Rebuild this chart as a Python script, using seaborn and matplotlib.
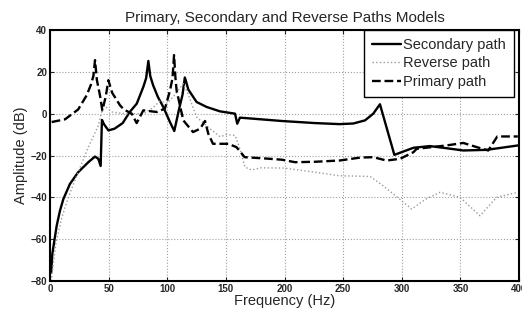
import numpy as np
import pandas as pd
import matplotlib
matplotlib.use("Agg")
import matplotlib.pyplot as plt
import seaborn as sns

# secondary path (solid)
sec_freq = [1, 2, 3.7, 5.7, 8.5, 11.4, 17, 24, 32.7, 38.4, 41.2, 43.2, 44.3, 46, 49.8,
            55, 62, 68, 74, 79.6, 82, 83.9, 85.5, 88, 92, 96.6, 102.3, 106, 110, 113, 115,
            116.5, 118, 125, 133.6, 145, 157.8, 159.7, 162, 197.6, 226, 247, 258.7, 268.7,
            275.7, 281.4, 293.7, 310, 324, 338, 352.5, 372.4, 399]
sec_amp = [-76, -67, -60.8, -53.6, -46.4, -40.8, -33.6, -28, -23.2, -20.5, -21.6, -25, -3, -5, -8,
           -7.2, -4.5, 0.8, 4.8, 12.8, 17, 25.2, 18, 13.5, 8, 3.2, -4, -8.3, 2, 9, 17.3,
           14.5, 11.5, 5.6, 3.2, 1.1, 0, -4.8, -1.9, -3.5, -4.5, -5, -4.7, -3.2,
           0, 4.5, -19.7, -16.3, -15.5, -16.5, -17.6, -17.3, -15.2]

# reverse path (dotted)
rev_freq = [1, 5, 10, 12.8, 17, 24, 32.7, 41, 45.5, 48, 52.6, 64, 80, 88, 93.8, 100, 105,
            113.7, 118, 125, 136.5, 145, 150.7, 157.8, 162, 166.3, 172, 180, 200, 226, 247,
            273, 284, 298.5, 308.5, 320, 332.6, 349.7, 366.7, 381, 399]
rev_amp = [-80, -62, -50, -44.8, -38, -28, -16, -6, 4, 3, 0.8, 0, 0, 3, 6, 5, 8,
           14.4, 9, -1.6, -7.2, -11, -10, -10.4, -16.8, -25.6, -26.9, -25.9, -26, -28, -29.7,
           -30, -34.4, -41, -45.6, -41, -37.6, -40, -48.8, -40, -37.6]

# primary path (dashed)
pri_freq = [1.4, 12.8, 24, 31.3, 35, 37, 38.4, 40, 42.6, 44.6, 47.5, 49.8, 53, 59.7, 63, 69.7,
            73.9, 79.6, 91, 98, 102.3, 104.5, 105.8, 107, 108, 113.7, 122, 128, 132.2, 135,
            139, 152, 159, 162, 166, 183, 197.6, 209, 226, 247, 264.4, 275.7, 287, 298.5,
            310, 312.7, 338, 352.5, 364, 373.8, 381.5, 399]
pri_amp = [-4, -2.7, 2, 8.8, 14, 18, 25.6, 16, 8.8, 1.6, 8, 16, 10, 4, 2, 0,
           -4.5, 1.6, 0.8, 2.4, 11, 17, 28, 17, 11, -3.2, -8.8, -7.2, -3.5, -9.6,
           -14.4, -14.4, -16, -18, -20.8, -21.4, -22, -23.2, -23, -22.4, -21, -20.8, -22.4, -21.6,
           -18.4, -16.8, -15.2, -14, -16, -17.6, -10.9, -10.9]

sns.set_style("ticks")
plt.rcParams["font.family"] = ["Liberation Sans", "DejaVu Sans"]

fig = plt.figure(figsize=(5.22, 3.12), dpi=100)
ax = fig.add_axes([50 / 522, 1 - 281 / 312, 469 / 522, 251 / 312])

sns.lineplot(x=sec_freq, y=sec_amp, ax=ax, color="black", lw=1.7,
             estimator=None, sort=False, label="Secondary path")
sns.lineplot(x=rev_freq, y=rev_amp, ax=ax, color="#9a9a9a", lw=1.0, linestyle=":",
             estimator=None, sort=False, label="Reverse path")
sns.lineplot(x=pri_freq, y=pri_amp, ax=ax, color="black", lw=1.7, linestyle="--",
             estimator=None, sort=False, label="Primary path")

ax.set_xlim(0, 400)
ax.set_ylim(-80, 40)
ax.set_xticks(np.arange(0, 401, 50))
ax.set_yticks(np.arange(-80, 41, 20))
ax.grid(True, linestyle=":", color="#a0a0a0", lw=0.8)
ax.tick_params(direction="in", top=True, right=True, length=3, labelsize=7, pad=2)
for lab in ax.get_xticklabels() + ax.get_yticklabels():
    lab.set_fontweight("bold")
for s in ax.spines.values():
    s.set_linewidth(1.5)
    s.set_color("black")

ax.set_xlabel("Frequency (Hz)", fontsize=10.5, labelpad=0)
ax.set_ylabel("Amplitude (dB)", fontsize=10.5, labelpad=2)
ax.set_title("Primary, Secondary and Reverse Paths Models", fontsize=11, pad=6)

leg = ax.legend(loc="upper right", bbox_to_anchor=(0.989, 1.0), borderaxespad=0,
                fontsize=10.5, handlelength=2.0, handletextpad=0.15, borderpad=0.55,
                labelspacing=0.3, fancybox=False, framealpha=1)
leg.get_frame().set_edgecolor("black")
leg.get_frame().set_linewidth(1.0)

fig.savefig("out.png", dpi=100)
